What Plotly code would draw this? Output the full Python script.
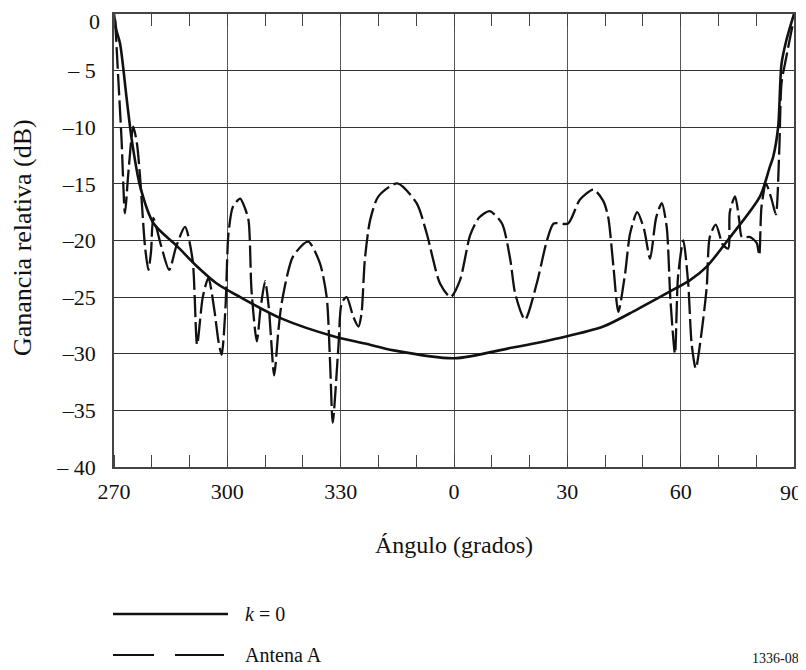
import plotly.graph_objects as go

# Angles relative to broadside (0); displayed 270..90
k0_angle = [-90, -89.4, -88.4, -86.6, -85.3, -83.1, -79.5, -73.3, -68, -62.8, -56.6, -45.6,
            -31.5, -23.6, -16, 0, 14.8, 28, 39.5, 48.4, 57.2, 62.5, 66.9, 73.1, 81, 83.6,
            84.5, 85.8, 86.7, 88, 90]
k0_gain = [0, -1.4, -2.6, -7.6, -11.1, -15.2, -18.5, -20.5, -22.3, -23.8, -25, -26.9,
           -28.5, -29.1, -29.7, -30.4, -29.5, -28.6, -27.6, -26.1, -24.5, -23.5, -22.3, -19.7, -16.1, -13.5,
           -12.6, -10, -4.4, -2.3, 0]

antA_angle = [-89.7, -88.9, -88.0, -87.1, -86.2, -84.9, -83.9, -83.1, -81.8, -80.9, -80.2, -79.6,
              -77.5, -75.4, -73.5, -71.2, -69.2, -68.0, -66.5, -65.0, -63.5, -62.3, -61.5, -60.5,
              -59.7, -58.5, -56.6, -55.5, -54.4, -53.6, -52.2, -51.2, -50.0, -49.0, -47.6, -46.5,
              -45.6, -42.6, -38.6, -35.5, -33.7, -32.8, -32.1, -30.6, -29.7, -28.4, -26.7, -25.3,
              -24.5, -23.6, -22.2, -20.0, -15.0, -9.9, -7.2, -3.7, -0.9, 1.6, 4.3, 6.6, 9.4,
              12.7, 14.9, 16.2, 18.8, 21.9, 24.6, 26.4, 30.2, 33.3, 36.9, 39.5, 40.8, 42.2, 43.5,
              45.3, 46.6, 48.5, 50.3, 51.9, 53.5, 55.0, 56.3, 57.3, 58.5, 59.3, 60.7, 62.0, 62.9,
              64.0, 65.5, 66.9, 67.7, 69.3, 71.2, 72.6, 73.0, 74.4, 75.5, 76.2, 78.4, 80.1, 80.8,
              81.4, 82.6, 84.1, 85.2, 86.1, 86.7, 87.9, 89.8]
antA_gain = [-0.5, -5.5, -11.1, -17.6, -14.0, -9.95, -11.5, -14.4, -20.5, -22.6, -21.0, -18.0,
             -20.5, -22.6, -20.5, -18.8, -21.7, -29.2, -25.0, -23.3, -26.0, -29.0, -30.1, -26.0,
             -19.4, -17.0, -16.3, -17.0, -18.2, -24.4, -28.9, -26.0, -23.6, -26.0, -31.9, -28.0,
             -25.5, -21.4, -20.1, -22.0, -25.0, -30.8, -36.1, -29.4, -25.5, -25.0, -26.7, -27.6,
             -26.5, -21.7, -18.2, -16.1, -14.95, -16.7, -19.4, -23.8, -25.0, -23.5, -19.5, -18.0, -17.4,
             -18.5, -21.7, -24.7, -27.0, -23.8, -20.0, -18.5, -18.5, -16.4, -15.5, -16.5, -17.9, -22.3, -26.3,
             -22.9, -19.4, -17.5, -19.0, -21.6, -18.0, -16.7, -18.8, -25.3, -30.0, -23.2, -20.0, -23.8, -29.1,
             -31.3, -28.2, -24.1, -19.7, -18.6, -20.4, -20.7, -17.5, -16.1, -18.2, -19.7, -19.7, -20.2, -21.3,
             -17.0, -15.0, -16.4, -17.7, -12.0, -6.1, -3.9, -0.7]

x_tickvals = [-90, -60, -30, 0, 30, 60, 90]
x_ticktext = ["270", "300", "330", "0", "30", "60", "90"]
y_tickvals = [0, -5, -10, -15, -20, -25, -30, -35, -40]
y_ticktext = ["0", "\u2013 5", "\u201310", "\u201315", "\u201320", "\u201325", "\u201330", "\u201335", "\u2013 40"]

FONT = "Liberation Serif"
# The page body has an 8px margin, so the figure is sized/offset to compensate.
OFF = 8
fig = go.Figure()
fig.add_trace(go.Scatter(x=antA_angle, y=antA_gain, mode="lines", name="Antena A",
                         line=dict(color="#111", width=2.3, dash="22px,5px", shape="spline", smoothing=0.7)))
fig.add_trace(go.Scatter(x=k0_angle, y=k0_gain, mode="lines", name="k = 0",
                         line=dict(color="#111", width=2.6, shape="spline", smoothing=0.8)))

# edge labels that would be clipped at the page edge are placed as annotations
x_axis_text = x_ticktext[:-1] + [""]
y_axis_text = [""] + y_ticktext[1:]

fig.update_layout(
    width=806 - OFF, height=670 - OFF,
    margin=dict(l=114 - OFF, r=12, t=14 - OFF, b=203, autoexpand=False),
    paper_bgcolor="white", plot_bgcolor="white",
    showlegend=False,
    font=dict(family=FONT, size=22, color="#111"),
)
fig.update_xaxes(range=[-90, 90], tickvals=x_tickvals, ticktext=x_axis_text, automargin=False,
                 showgrid=True, gridcolor="#555", gridwidth=1, zeroline=False,
                 showline=True, linecolor="#444", linewidth=1.5, mirror="ticks",
                 ticks="", ticklabelstandoff=4, ticklabeloverflow="allow",
                 minor=dict(dtick=10, tick0=-90, ticks="inside", ticklen=12, tickcolor="#444",
                            tickwidth=1, showgrid=False),
                 tickfont=dict(family=FONT, size=22, color="#111"))
fig.update_yaxes(range=[-40, 0], tickvals=y_tickvals, ticktext=y_axis_text, automargin=False,
                 showgrid=True, gridcolor="#333", gridwidth=1, zeroline=False,
                 showline=True, linecolor="#444", linewidth=1.5, mirror=True,
                 ticks="", ticklabelstandoff=12, ticklabeloverflow="allow",
                 tickfont=dict(family=FONT, size=22, color="#111"))


def px_x(p):
    return (p - 114) / 680


def px_y(p):
    return (467 - p) / 453


annotations = [
    dict(text=y_ticktext[0], x=px_x(101), y=px_y(8), xref="paper", yref="paper",
         showarrow=False, font=dict(family=FONT, size=22, color="#111"), xanchor="right", yanchor="top",
         borderpad=0),
    dict(text=x_ticktext[-1], x=px_x(803), y=px_y(492), xref="paper", yref="paper",
         showarrow=False, font=dict(family=FONT, size=22, color="#111"), xanchor="right", yanchor="middle",
         borderpad=0),
    dict(text="Ángulo (grados)", x=0.5, y=px_y(545), xref="paper", yref="paper",
         showarrow=False, font=dict(family=FONT, size=24, color="#111"), xanchor="center", yanchor="middle"),
    dict(text="Ganancia relativa (dB)", x=px_x(22), y=px_y(238), xref="paper", yref="paper",
         showarrow=False, textangle=-90, font=dict(family=FONT, size=26, color="#111"),
         xanchor="center", yanchor="middle"),
    dict(text="<i>k</i> = 0", x=px_x(243), y=px_y(614), xref="paper", yref="paper",
         showarrow=False, font=dict(family=FONT, size=20, color="#111"), xanchor="left", yanchor="middle"),
    dict(text="Antena A", x=px_x(243), y=px_y(655), xref="paper", yref="paper",
         showarrow=False, font=dict(family=FONT, size=20, color="#111"), xanchor="left", yanchor="middle"),
    dict(text="1336-08", x=px_x(801), y=px_y(658), xref="paper", yref="paper",
         showarrow=False, font=dict(family=FONT, size=14, color="#111"), xanchor="right", yanchor="middle"),
]

shapes = [
    dict(type="line", xref="paper", yref="paper", x0=px_x(113), x1=px_x(228), y0=px_y(614), y1=px_y(614),
         line=dict(color="#111", width=2.6)),
    dict(type="line", xref="paper", yref="paper", x0=px_x(113), x1=px_x(154), y0=px_y(655), y1=px_y(655),
         line=dict(color="#111", width=2.2)),
    dict(type="line", xref="paper", yref="paper", x0=px_x(175), x1=px_x(224), y0=px_y(655), y1=px_y(655),
         line=dict(color="#111", width=2.2)),
]
fig.update_layout(annotations=annotations, shapes=shapes)

fig.write_html("out.html")
